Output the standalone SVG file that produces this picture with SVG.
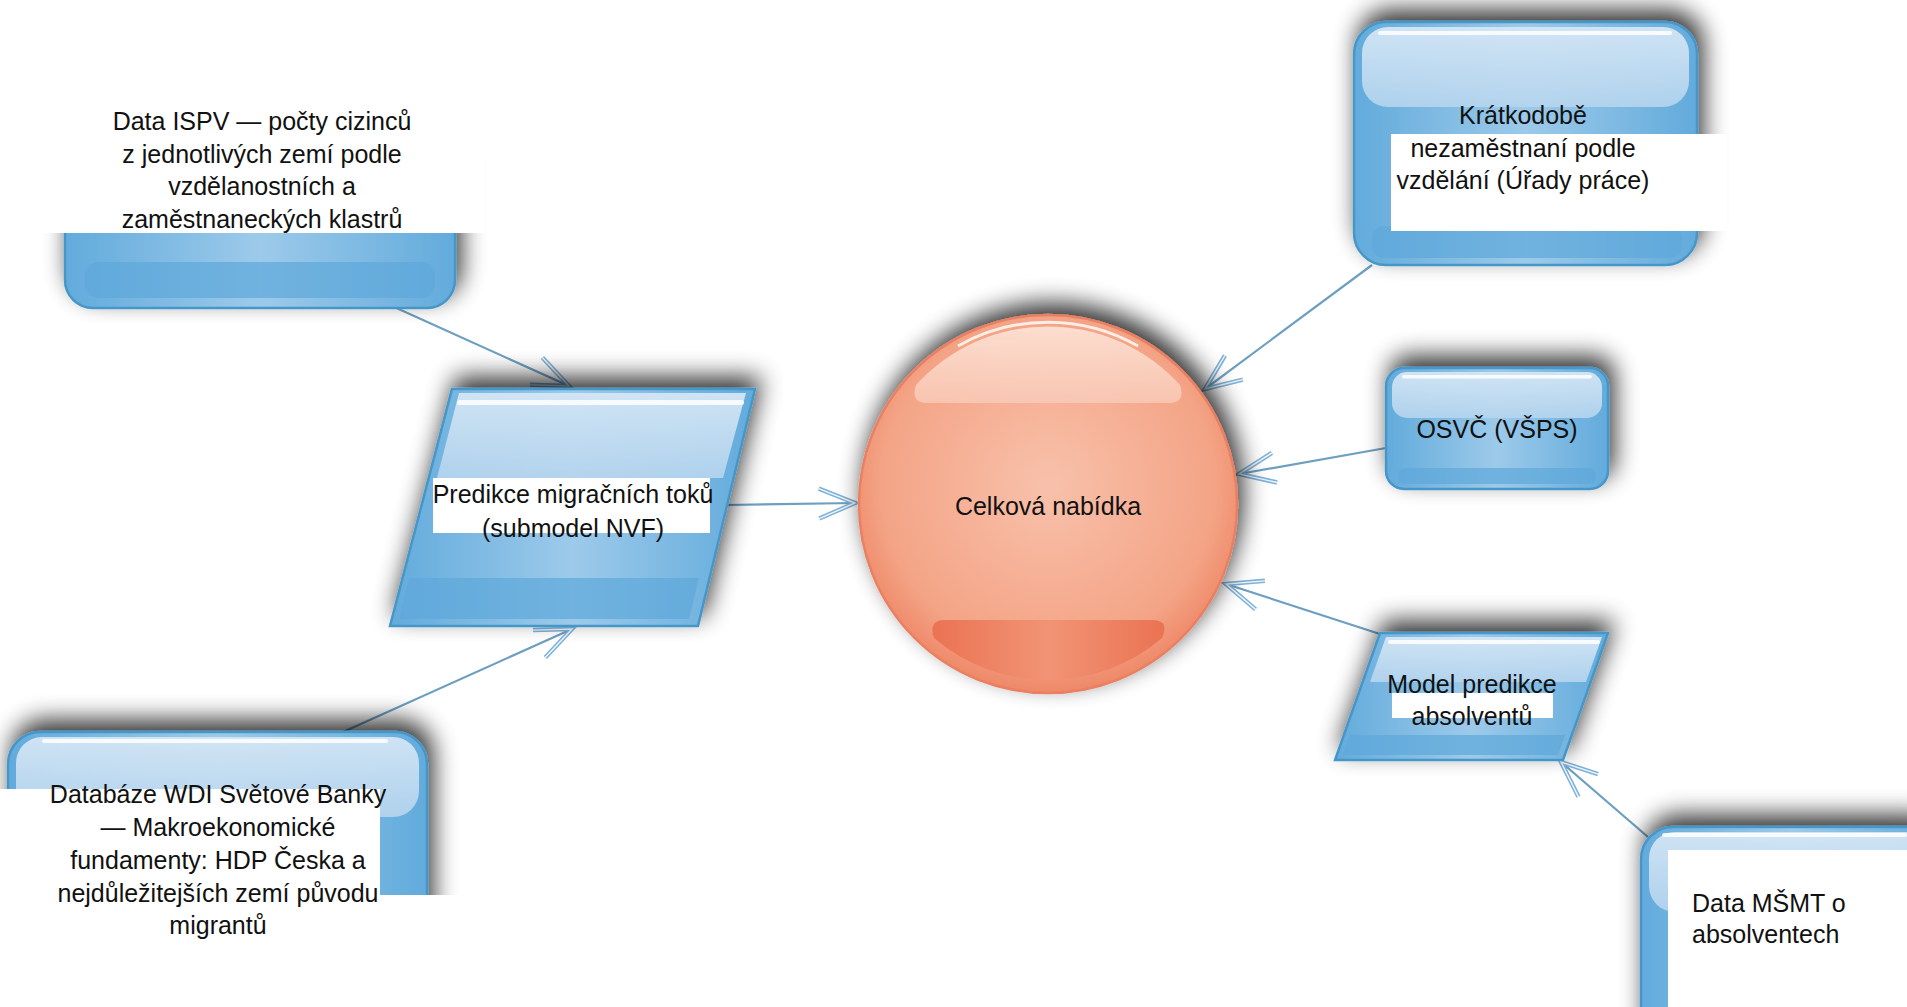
<svg xmlns="http://www.w3.org/2000/svg" width="1907" height="1007" viewBox="0 0 1907 1007">
<defs>
<style>
.t{font-family:"Liberation Sans",Arial,sans-serif;font-size:25px;fill:#111;text-anchor:middle}
.tl{font-family:"Liberation Sans",Arial,sans-serif;font-size:25px;fill:#111;text-anchor:start}
.base{fill:url(#blueBase);stroke:#4796c8;stroke-width:2.5}
.gloss{fill:url(#blueTop)}
.band{fill:#5ea8da;opacity:0.7}
.hl{fill:#ffffff;opacity:0.85}
.wb{fill:#ffffff}
.conn{fill:none;stroke:#6d9fc0;stroke-width:2.2;marker-end:url(#arr)}
</style>
<linearGradient id="blueBase" x1="0" y1="0" x2="1" y2="0">
<stop offset="0" stop-color="#62abdc"/>
<stop offset="0.5" stop-color="#9dcaea"/>
<stop offset="1" stop-color="#62abdc"/>
</linearGradient>
<linearGradient id="blueTop" x1="0" y1="0" x2="0" y2="1">
<stop offset="0" stop-color="#d4e6f5" stop-opacity="0.95"/>
<stop offset="1" stop-color="#b6d5ee" stop-opacity="0.9"/>
</linearGradient>
<radialGradient id="orange" cx="0.5" cy="0.45" r="0.55">
<stop offset="0" stop-color="#f8c1ab"/>
<stop offset="0.8" stop-color="#f4a486"/>
<stop offset="1" stop-color="#ee8868"/>
</radialGradient>
<linearGradient id="capG" x1="0" y1="0" x2="0" y2="1">
<stop offset="0" stop-color="#fde4d8" stop-opacity="0.9"/>
<stop offset="1" stop-color="#f9cbb8" stop-opacity="0.8"/>
</linearGradient>
<linearGradient id="botG" x1="0" y1="0" x2="1" y2="0">
<stop offset="0" stop-color="#ea7352"/>
<stop offset="0.5" stop-color="#f19475"/>
<stop offset="1" stop-color="#ea7352"/>
</linearGradient>
<filter id="sh" x="-30%" y="-40%" width="160%" height="180%">
<feGaussianBlur in="SourceAlpha" stdDeviation="12"/>
<feOffset dx="5" dy="-11" result="o"/>
<feComponentTransfer><feFuncA type="linear" slope="0.8"/></feComponentTransfer>
<feMerge><feMergeNode/><feMergeNode in="SourceGraphic"/></feMerge>
</filter>
<marker id="arr" markerUnits="userSpaceOnUse" markerWidth="50" markerHeight="40" viewBox="-45 -20 50 40" refX="0" refY="0" orient="auto">
<path d="M-36,-15 L0,0 L-36,15" fill="none" stroke="#7fb2d8" stroke-width="4.5" stroke-linejoin="miter"/>
<path d="M-36,-15 L0,0 L-36,15" fill="none" stroke="#eef6fc" stroke-width="1.4"/>
</marker>
<clipPath id="cp1"><polygon points="452,389 755,389 698,626 390,626"/></clipPath>
<clipPath id="cp2"><polygon points="1380,633 1608,633 1563,760 1335,760"/></clipPath>
</defs>
<rect width="1907" height="1007" fill="#ffffff"/>

<g id="connectors">
<line class="conn" x1="392" y1="306" x2="569" y2="386"/>
<line class="conn" x1="343" y1="732" x2="572" y2="629"/>
<line class="conn" x1="727" y1="505" x2="855" y2="503"/>
<line class="conn" x1="1372" y1="265" x2="1205" y2="389"/>
<line class="conn" x1="1386" y1="448" x2="1239" y2="474"/>
<line class="conn" x1="1383" y1="635" x2="1226" y2="584"/>
<line class="conn" x1="1648" y1="837" x2="1561" y2="762"/>
</g>

<g id="node-ispv">
<rect class="base" x="65" y="150" width="390" height="158" rx="28" filter="url(#sh)"/>
<rect class="band" x="85" y="262" width="350" height="36" rx="14"/>
<rect class="wb" x="0" y="0" width="485" height="233"/>
<text class="t" x="262" y="130">Data ISPV — počty cizinců</text>
<text class="t" x="262" y="163">z jednotlivých zemí podle</text>
<text class="t" x="262" y="195">vzdělanostních a</text>
<text class="t" x="262" y="228">zaměstnaneckých klastrů</text>
</g>

<g id="node-kratkodobe">
<rect class="base" x="1354" y="22" width="343" height="243" rx="32" filter="url(#sh)"/>
<rect class="gloss" x="1362" y="27" width="327" height="80" rx="26"/>
<rect class="hl" x="1378" y="31" width="294" height="4" rx="2"/>
<rect class="band" x="1372" y="226" width="310" height="32" rx="12"/>
<rect class="wb" x="1391" y="134" width="336" height="97"/>
<text class="t" x="1523" y="124">Krátkodobě</text>
<text class="t" x="1523" y="157">nezaměstnaní podle</text>
<text class="t" x="1523" y="189">vzdělání (Úřady práce)</text>
</g>

<g id="node-predikce-migrace">
<polygon class="base" points="452,389 755,389 698,626 390,626" filter="url(#sh)"/>
<g clip-path="url(#cp1)">
<polygon class="gloss" points="459,393 746,393 723,478 437,478"/>
<polygon class="band" points="409,578 699,578 689,619 399,619"/>
</g>
<rect class="hl" x="457" y="400" width="287" height="5" rx="2.5"/>
<rect class="wb" x="433" y="478" width="277" height="55"/>
<text class="t" x="573" y="503">Predikce migračních toků</text>
<text class="t" x="573" y="537">(submodel NVF)</text>
</g>

<g id="node-celkova">
<circle cx="1048" cy="504" r="189" fill="url(#orange)" stroke="#e98062" stroke-width="2.5" filter="url(#sh)"/>
<path d="M916,385 A178,178 0 0 1 1180,385 Q1186,403 1168,403 L928,403 Q910,403 916,385 Z" fill="url(#capG)"/>
<path d="M958,346 A182,182 0 0 1 1138,346" fill="none" stroke="#ffffff" stroke-width="3" opacity="0.8"/>
<path d="M945,620 L1152,620 Q1170,620 1162,638 A175,175 0 0 1 934,638 Q928,620 945,620 Z" fill="url(#botG)"/>
<text class="t" x="1048" y="515">Celková nabídka</text>
</g>

<g id="node-osvc">
<rect class="base" x="1386" y="368" width="222" height="121" rx="18" filter="url(#sh)"/>
<rect class="gloss" x="1392" y="372" width="210" height="46" rx="15"/>
<rect class="hl" x="1402" y="375" width="190" height="3.5" rx="1.7"/>
<rect class="band" x="1398" y="468" width="198" height="16" rx="7"/>
<text class="t" x="1497" y="438">OSVČ (VŠPS)</text>
</g>

<g id="node-model-absolventu">
<polygon class="base" points="1380,633 1608,633 1563,760 1335,760" filter="url(#sh)"/>
<g clip-path="url(#cp2)">
<polygon class="gloss" points="1386,637 1602,637 1586,682 1370,682"/>
<polygon class="band" points="1350,735 1565,735 1558,755 1343,755"/>
</g>
<rect class="hl" x="1388" y="640" width="212" height="4" rx="2"/>
<rect class="wb" x="1392" y="693" width="161" height="25"/>
<text class="t" x="1472" y="693">Model predikce</text>
<text class="t" x="1472" y="725">absolventů</text>
</g>

<g id="node-wdi">
<rect class="base" x="8" y="732" width="419" height="240" rx="32" filter="url(#sh)"/>
<rect class="gloss" x="16" y="737" width="403" height="80" rx="26"/>
<rect class="hl" x="42" y="739" width="346" height="4" rx="2"/>
<rect class="wb" x="0" y="789" width="380" height="218"/>
<rect class="wb" x="0" y="895" width="500" height="112"/>
<text class="t" x="218" y="803">Databáze WDI Světové Banky</text>
<text class="t" x="218" y="836">— Makroekonomické</text>
<text class="t" x="218" y="869">fundamenty: HDP Česka a</text>
<text class="t" x="218" y="902">nejdůležitejších zemí původu</text>
<text class="t" x="218" y="934">migrantů</text>
</g>

<g id="node-msmt">
<rect class="base" x="1641" y="827" width="300" height="240" rx="32" filter="url(#sh)"/>
<rect class="gloss" x="1649" y="832" width="284" height="80" rx="26"/>
<rect class="hl" x="1662" y="833" width="245" height="4" rx="2"/>
<rect class="wb" x="1668" y="850" width="239" height="157"/>
<text class="tl" x="1692" y="912">Data MŠMT o</text>
<text class="tl" x="1692" y="943">absolventech</text>
</g>
</svg>
